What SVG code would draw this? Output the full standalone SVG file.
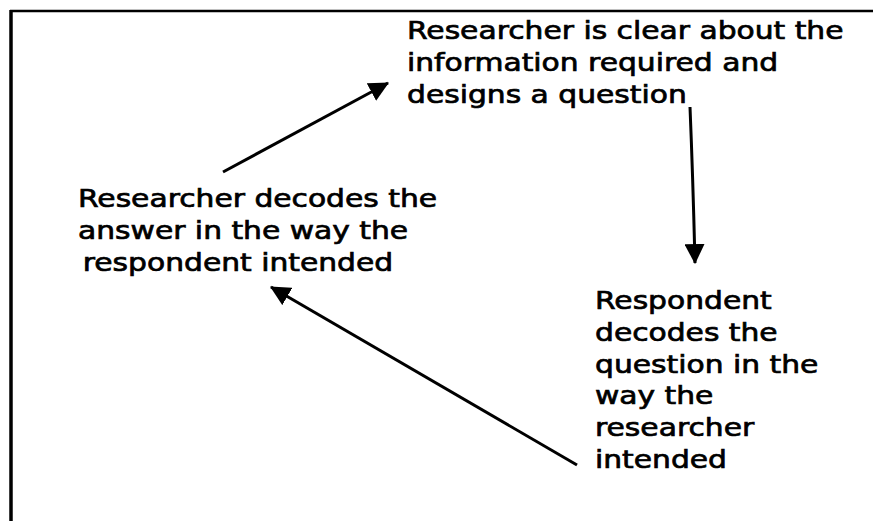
<svg xmlns="http://www.w3.org/2000/svg" width="873" height="521" viewBox="0 0 873 521">
<style>
.t{font-family:"DejaVu Sans","Verdana",sans-serif;font-size:25px;fill:#000;stroke:#000;stroke-width:0.7}
.c{stroke:#000;stroke-width:3;fill:none}
</style>
<defs>
<marker id="ah" markerUnits="userSpaceOnUse" markerWidth="20" markerHeight="20" viewBox="0 0 18 18" refX="17" refY="9" orient="auto">
<path d="M0,0 L18,9 L0,18 z" fill="#000"/>
</marker>
</defs>
<rect width="873" height="521" fill="#fff"/>
<g id="frame">
<line x1="10" y1="11" x2="873" y2="11" stroke="#000" stroke-width="2.5"/>
<line x1="11" y1="10" x2="11" y2="521" stroke="#000" stroke-width="3.5"/>
</g>
<g id="node-design">
<g transform="translate(407,0) scale(1.19,1)">
<text class="t" x="0" y="39">Researcher is clear about the</text>
<text class="t" x="0" y="71">information required and</text>
<text class="t" x="0" y="103">designs a question</text>
</g>
</g>
<g id="node-respondent">
<g transform="translate(595,0) scale(1.19,1)">
<text class="t" x="0" y="309">Respondent</text>
<text class="t" x="0" y="341">decodes the</text>
<text class="t" x="0" y="373">question in the</text>
<text class="t" x="0" y="404">way the</text>
<text class="t" x="0" y="436">researcher</text>
<text class="t" x="0" y="468">intended</text>
</g>
</g>
<g id="node-researcher-decodes">
<g transform="translate(78,0) scale(1.19,1)">
<text class="t" x="0" y="207">Researcher decodes the</text>
<text class="t" x="0" y="239">answer in the way the</text>
<text class="t" x="4" y="271">respondent intended</text>
</g>
</g>
<g id="connectors">
<line class="c" x1="223" y1="172" x2="388" y2="83" marker-end="url(#ah)"/>
<path class="c" d="M690,107 Q693,180 695,263" marker-end="url(#ah)"/>
<line class="c" x1="577" y1="465" x2="271" y2="287" marker-end="url(#ah)"/>
</g>
</svg>
